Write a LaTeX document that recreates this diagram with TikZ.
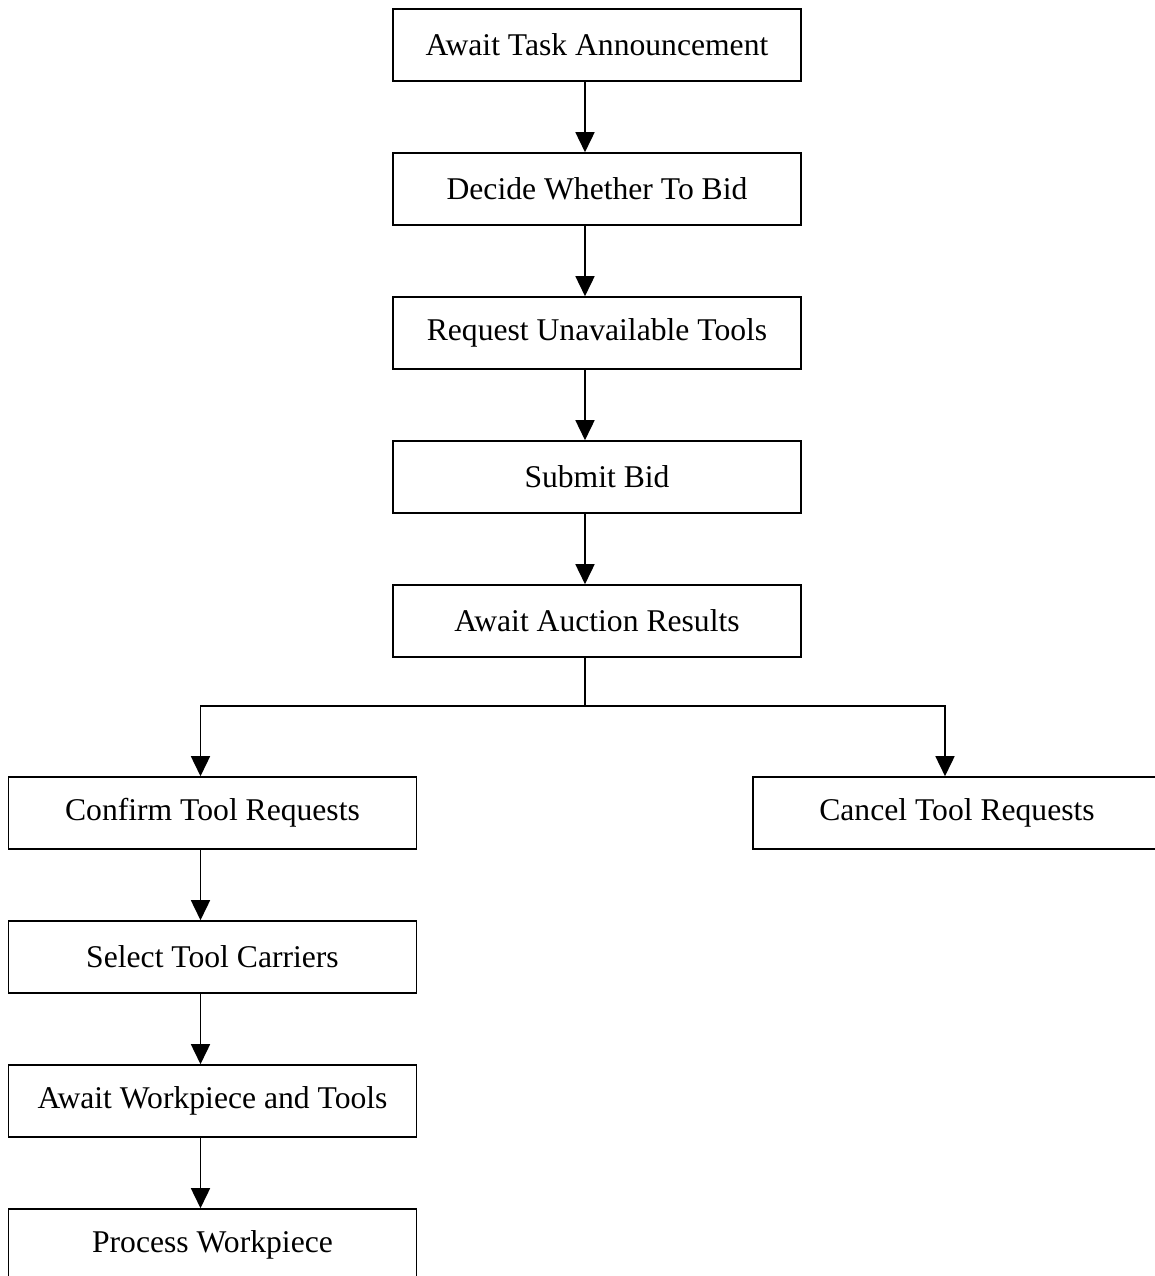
\documentclass[tikz,border=0pt]{standalone}
\usepackage{fontspec}
\setmainfont{Liberation Serif}
\usepackage{tikz}
\usetikzlibrary{arrows.meta, positioning}

\begin{document}
\begin{tikzpicture}[
  state/.style={draw=black, line width=0.9pt, fill=white, minimum width=8.16cm, minimum height=1.44cm, align=center, inner sep=0pt, font=\fontsize{18}{21}\selectfont},
  arr/.style={-{Triangle[length=0.4cm, width=0.38cm]}, line width=0.9pt, black},
  link/.style={line width=0.9pt, black},
]
\useasboundingbox (0,0) rectangle (23.08,-25.52);

% Bidding
\node[state] (announce) at (11.94,-0.90) {Await Task Announcement};
\node[state] (decide) at (11.94,-3.78) {Decide Whether To Bid};
\node[state] (request) at (11.94,-6.66) {Request Unavailable Tools};
\node[state] (submit) at (11.94,-9.54) {Submit Bid};
\node[state] (results) at (11.94,-12.42) {Await Auction Results};

% Outcome
\node[state] (confirm) at (4.25,-16.26) {Confirm Tool Requests};
\node[state] (cancel) at (19.14,-16.26) {Cancel Tool Requests};

% Processing
\node[state] (carriers) at (4.25,-19.14) {Select Tool Carriers};
\node[state] (awaitwp) at (4.25,-22.02) {Await Workpiece and Tools};
\node[state] (process) at (4.25,-24.90) {Process Workpiece};

% Sequence arrows
\foreach \a/\b in {announce/decide, decide/request, request/submit, submit/results, confirm/carriers, carriers/awaitwp, awaitwp/process} {
  \draw[arr] ([xshift=-0.24cm]\a.south) -- ([xshift=-0.24cm]\b.north);
}

% Split after results
\draw[link] ([xshift=-0.24cm]results.south) -- ++(0,-0.96) coordinate (split);
\draw[arr] (split) -| ([xshift=-0.24cm]confirm.north);
\draw[arr] (split) -| ([xshift=-0.24cm]cancel.north);

\end{tikzpicture}
\end{document}
